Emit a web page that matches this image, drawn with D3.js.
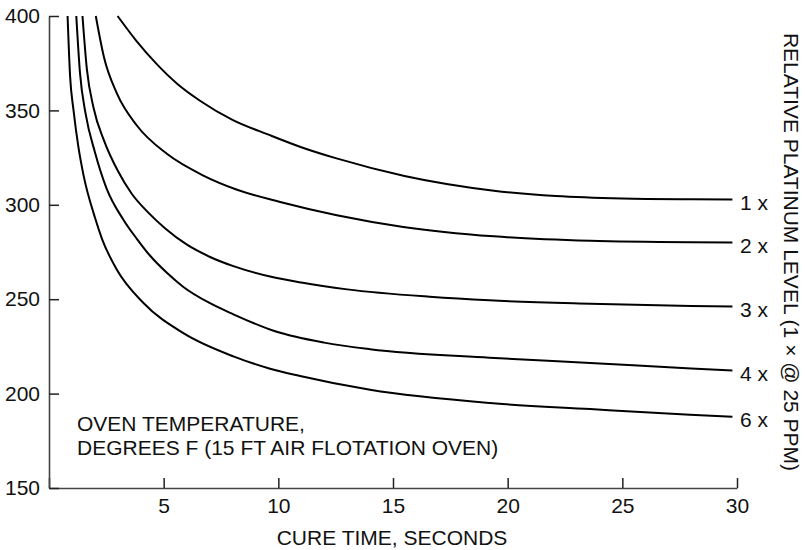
<!DOCTYPE html>
<html>
<head>
<meta charset="utf-8">
<script src="https://cdn.jsdelivr.net/npm/d3@7"></script>
<style>
  html, body { margin: 0; padding: 0; background: #fff; }
  svg text { font-family: "Liberation Sans", Arial, Helvetica, sans-serif; fill: #111; }
</style>
</head>
<body>
<svg id="chart" width="806" height="550"></svg>
<script>
// ---- data ----
const seriesNames = ["1 x", "2 x", "3 x", "4 x", "6 x"];

const time1x = [2.99, 3.8, 4.7, 5.6, 6.6, 8.0, 9.6, 11.0, 12.5, 15.5, 19.4, 22.1, 25.0, 28.0, 29.8];
const temp1x = [400, 387, 374.5, 364, 355, 345, 337, 330.5, 324.7, 315.3, 307.5, 304.6, 303.3, 302.9, 302.8];

const time2x = [2.04, 2.4, 2.96, 3.83, 5.14, 6.73, 8.2, 10.08, 12.55, 15.45, 19.4, 23.6, 28.0, 29.8];
const temp2x = [400, 378, 359, 342, 327, 315.5, 308, 301.5, 294.5, 288.3, 283.3, 280.9, 280.1, 280.0];

const time3x = [1.46, 1.65, 1.95, 2.4, 3.0, 3.6, 4.32, 5.07, 6.0, 7.0, 8.04, 9.64, 11.0, 13.0, 16.6, 19.2, 23.6, 28.0, 29.8];
const temp3x = [400, 372, 351, 334, 318, 306, 296, 287.5, 279, 272.5, 267.5, 262, 258.8, 255.2, 251.3, 249.4, 247.6, 246.4, 246.1];

const time4x = [1.19, 1.35, 1.6, 2.0, 2.5, 3.25, 3.83, 4.41, 5.14, 5.86, 7.0, 8.04, 9.86, 12.0, 14.0, 19.2, 23.6, 28.0, 29.8];
const temp4x = [400, 370, 348, 328, 309, 292, 282, 273, 264, 256.5, 248, 242, 233, 227, 223.5, 219, 216.2, 213.3, 212.2];

const time6x = [0.81, 0.92, 1.07, 1.29, 1.5, 2.01, 2.31, 2.96, 4.12, 5.86, 8.04, 9.64, 10.95, 14.0, 19.23, 23.6, 27.95, 29.8];
const temp6x = [400, 368, 350, 330, 316, 293, 282, 265.6, 248, 232, 219.7, 213.2, 209.3, 202, 195, 191.8, 188.8, 187.7];

const xTickValues = [0, 5, 10, 15, 20, 25, 30];
const yTickValues = [150, 200, 250, 300, 350, 400];

const xTitle = "CURE TIME, SECONDS";
const yTitleLines = ["OVEN TEMPERATURE,", "DEGREES F (15 FT AIR FLOTATION OVEN)"];
const rightTitle = "RELATIVE PLATINUM LEVEL (1 \u00D7 @ 25 PPM)";

const allTimes = [time1x, time2x, time3x, time4x, time6x];
const allTemps = [temp1x, temp2x, temp3x, temp4x, temp6x];

// ---- layout ----
const svg = d3.select("#chart");
const plot = { left: 49, right: 737, top: 16, bottom: 488 };

const x = d3.scaleLinear().domain([0, 30]).range([plot.left, plot.right]);
const y = d3.scaleLinear().domain([150, 400]).range([plot.bottom, plot.top]);

const FONT = 21;

// axes
const xAxis = d3.axisBottom(x)
  .tickValues(xTickValues)
  .tickSizeInner(-10)
  .tickSizeOuter(0)
  .tickPadding(10)
  .tickFormat(d => d === 0 ? "" : d3.format("d")(d));

const yAxis = d3.axisLeft(y)
  .tickValues(yTickValues)
  .tickSizeInner(-10)
  .tickSizeOuter(0)
  .tickPadding(9)
  .tickFormat(d3.format("d"));

const gx = svg.append("g")
  .attr("transform", `translate(0,${plot.bottom})`)
  .call(xAxis);
const gy = svg.append("g")
  .attr("transform", `translate(${plot.left},0)`)
  .call(yAxis);

[gx, gy].forEach(g => {
  g.select(".domain").attr("stroke", "#444").attr("stroke-width", 1.6);
  g.selectAll(".tick line").attr("stroke", "#222").attr("stroke-width", 1.5);
  g.selectAll(".tick text")
    .attr("font-size", FONT)
    .attr("font-family", "Liberation Sans, Arial, Helvetica, sans-serif")
    .attr("fill", "#111");
});

// curves
const line = d3.line()
  .x(d => x(d[0]))
  .y(d => y(d[1]))
  .curve(d3.curveMonotoneX);

const series = seriesNames.map((name, i) => ({
  name,
  points: allTimes[i].map((t, j) => [t, allTemps[i][j]])
}));

svg.append("g")
  .selectAll("path")
  .data(series)
  .join("path")
  .attr("d", d => line(d.points))
  .attr("fill", "none")
  .attr("stroke", "#000")
  .attr("stroke-width", 2);

// series labels at right end of each curve
svg.append("g")
  .selectAll("text")
  .data(series)
  .join("text")
  .attr("x", plot.right + 3)
  .attr("y", d => y(d.points[d.points.length - 1][1]) + 3)
  .attr("dy", "0.35em")
  .attr("font-size", FONT)
  .text(d => d.name);

// inner y label (two lines)
svg.append("g")
  .selectAll("text")
  .data(yTitleLines)
  .join("text")
  .attr("x", 77)
  .attr("y", (d, i) => 430.5 + i * 24.3)
  .attr("font-size", FONT)
  .text(d => d);

// x title
svg.append("text")
  .attr("x", 392)
  .attr("y", 545)
  .attr("text-anchor", "middle")
  .attr("font-size", FONT)
  .text(xTitle);

// right title (rotated)
svg.append("text")
  .attr("transform", "translate(791,252) rotate(90)")
  .attr("text-anchor", "middle")
  .attr("dy", "0.35em")
  .attr("font-size", FONT)
  .text(rightTitle);
</script>
</body>
</html>
